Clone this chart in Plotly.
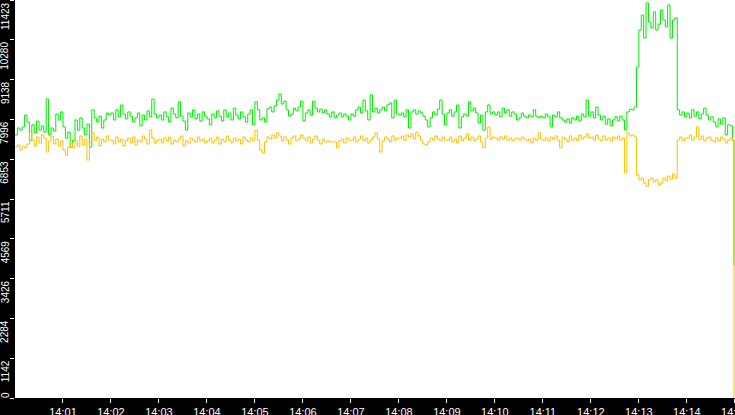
import pandas as pd
import plotly.graph_objects as go

# sample times: one reading every 3 seconds from 14:00, plus the last reading
sample_times = list(pd.date_range('2024-01-01 14:00:00', periods=300, freq='3s'))
sample_times.append(pd.Timestamp('2024-01-01 14:14:59'))

# green series, one row per minute (20 readings each)
green_values = [
    7550, 7750, 7690, 7780, 8120, 7920, 7400, 7840, 7610, 7950, 7690, 7810, 7630, 8580, 7550, 7750, 7660, 8150, 7980, 8210,
    7780, 7460, 7630, 7200, 7400, 7980, 7690, 8040, 7750, 7550, 7860, 7200, 8270, 8040, 7920, 8090, 7750, 7980, 8180, 8120,
    8180, 7980, 8270, 8070, 8410, 8150, 8010, 8210, 8090, 7920, 8040, 8180, 7810, 8120, 7980, 8240, 8070, 8580, 8150, 8040,
    8120, 7980, 8210, 8070, 7920, 8320, 8150, 8040, 8500, 8090, 7950, 7690, 8180, 8070, 8270, 8010, 8150, 7950, 8210, 8090,
    8010, 7840, 8150, 8040, 8240, 8090, 7950, 8270, 8070, 8180, 7980, 8320, 8120, 8010, 8210, 8070, 7920, 8150, 8270, 7840,
    8500, 8270, 7980, 8040, 7920, 8300, 8350, 8210, 8380, 8550, 8720, 8440, 8520, 8270, 8090, 8150, 8320, 8240, 8350, 8520,
    7950, 8180, 8270, 8120, 8520, 8320, 8210, 8290, 8180, 8270, 8150, 8070, 8210, 8040, 8120, 8180, 8070, 8150, 8090, 7980,
    8150, 8090, 8270, 8350, 8180, 8550, 8240, 7980, 8700, 8210, 8320, 8180, 8270, 8350, 8240, 8410, 8470, 8040, 8550, 8150,
    8120, 8180, 8070, 8270, 7750, 8210, 8270, 8150, 8240, 8180, 8090, 7980, 7780, 8040, 8210, 8120, 8290, 8550, 8150, 7840,
    8180, 8270, 8090, 8210, 8410, 7750, 8070, 8150, 8090, 8500, 8240, 8320, 8180, 7890, 8120, 7690, 8210, 8410, 8150, 8210,
    8120, 8210, 8070, 8320, 8180, 8270, 8090, 8210, 8150, 7980, 8040, 8180, 8090, 8040, 8120, 8070, 8270, 8090, 8040, 8090,
    8040, 8150, 8070, 7780, 8120, 8070, 8210, 8040, 7980, 7920, 8010, 7890, 8040, 7980, 8090, 7950, 8150, 8070, 8550, 8090,
    8210, 8040, 8350, 8120, 7980, 8090, 7860, 8010, 7810, 7980, 8070, 7950, 8090, 7980, 7690, 8210, 8290, 8270, 8350, 9500,
    10560, 10990, 10330, 11340, 10790, 10620, 11080, 10560, 10730, 11140, 10850, 10650, 11280, 10330, 10850, 10910, 8270, 8120, 8210, 8070,
    8180, 8040, 8270, 8090, 8210, 8010, 8150, 8320, 8120, 7980, 8070, 7920, 7780, 8010, 7860, 8040, 7550, 7840, 7810, 7400,
    3790,
]

# amber series, same layout
amber_values = [
    7200, 7260, 7120, 7230, 7180, 7290, 7630, 7400, 7230, 7490, 7320, 7550, 7460, 7060, 7380, 7520, 7290, 7430, 7230, 7380,
    7120, 6970, 7200, 7320, 7180, 7380, 7230, 7520, 7260, 7430, 6830, 7320, 7610, 7400, 7490, 7230, 7430, 7350, 7520, 7400,
    7400, 7290, 7490, 7350, 7430, 7230, 7380, 7460, 7320, 7490, 7260, 7400, 7350, 7520, 7430, 7290, 7690, 7460, 7320, 7400,
    7430, 7320, 7460, 7380, 7490, 7290, 7400, 7350, 7430, 7520, 7230, 7380, 7320, 7460, 7400, 7350, 7490, 7380, 7430, 7320,
    7380, 7460, 7320, 7400, 7490, 7290, 7430, 7350, 7520, 7400, 7320, 7460, 7380, 7430, 7290, 7490, 7400, 7350, 7460, 7380,
    7690, 7400, 7120, 7030, 7350, 7490, 7430, 7550, 7460, 7610, 7520, 7380, 7490, 7400, 7290, 7460, 7520, 7380, 7430, 7550,
    7460, 7380, 7490, 7320, 7430, 7520, 7400, 7290, 7430, 7350, 7380, 7350, 7350, 7350, 7180, 7380, 7430, 7320, 7460, 7400,
    7400, 7490, 7350, 7430, 7520, 7380, 7460, 7320, 7400, 7490, 7610, 7430, 7060, 7380, 7490, 7430, 7350, 7520, 7400, 7460,
    7460, 7520, 7400, 7550, 7490, 7580, 7430, 7630, 7520, 7400, 7290, 7260, 7350, 7460, 7400, 7520, 7430, 7380, 7490, 7400,
    7400, 7490, 7350, 7430, 7320, 7520, 7380, 7460, 7580, 7400, 7490, 7380, 7430, 7520, 7350, 7180, 7460, 7780, 7430, 7490,
    7460, 7400, 7490, 7430, 7520, 7400, 7460, 7380, 7430, 7460, 7400, 7490, 7430, 7380, 7430, 7320, 7460, 7400, 7610, 7430,
    7400, 7460, 7380, 7490, 7430, 7520, 7400, 7180, 7490, 7430, 7350, 7520, 7400, 7460, 7380, 7550, 7430, 7490, 7580, 7460,
    7490, 7400, 7550, 7430, 7380, 7520, 7400, 7460, 7380, 7490, 7430, 7520, 7400, 7460, 6460, 7610, 7520, 7550, 7490, 6400,
    6260, 6310, 6170, 6080, 6260, 6310, 6200, 6260, 6110, 6170, 6310, 6230, 6370, 6280, 6430, 6310, 7400, 7490, 7380, 7460,
    7460, 7550, 7400, 7490, 7780, 7430, 7520, 7380, 7460, 7490, 7400, 7350, 7460, 7380, 7490, 7430, 7320, 7400, 7460, 7380,
    0,
]

ytick_vals = [0, 1142, 2284, 3426, 4569, 5711, 6853, 7996, 9138, 10280, 11423]
ytick_text = ['0', '1142', '2284', '3426', '4569', '5711', '6853', '7996', '9138', '10280', '11423']

xtick_text = ['14:01', '14:02', '14:03', '14:04', '14:05', '14:06', '14:07', '14:08',
              '14:09', '14:10', '14:11', '14:12', '14:13', '14:14', '14:15']
xtick_vals = ['2024-01-01 ' + t + ':00' for t in xtick_text]

fig = go.Figure()
fig.add_trace(go.Scatter(x=sample_times, y=green_values, mode='lines',
                         line=dict(color='#00ee00', width=1, shape='hv'),
                         name='green'))
fig.add_trace(go.Scatter(x=sample_times, y=amber_values, mode='lines',
                         line=dict(color='#ffc000', width=1, shape='hv'),
                         name='amber'))

# y labels sit just under their tick, rotated
annotations = []
for val, txt in zip(ytick_vals, ytick_text):
    annotations.append(dict(
        x=0, xref='paper', xshift=-10, xanchor='center',
        y=val, yref='y', yanchor='bottom' if val == 0 else 'top',
        yshift=-2 if val == 0 else 0,
        text=txt, textangle=-90, showarrow=False,
        font=dict(family='Liberation Sans', size=10, color='white'),
    ))

fig.update_layout(
    width=735,
    height=415,
    margin=dict(l=15, r=0, t=0, b=17, pad=0),
    paper_bgcolor='black',
    plot_bgcolor='white',
    showlegend=False,
    annotations=annotations,
    xaxis=dict(
        range=['2024-01-01 14:00:00', '2024-01-01 14:15:00.2'],
        tickmode='array',
        tickvals=xtick_vals,
        ticktext=xtick_text,
        ticks='outside', ticklen=4, tickcolor='white', tickwidth=1,
        ticklabeloverflow='allow',
        automargin=False,
        tickfont=dict(family='Liberation Sans', size=11, color='white'),
        showgrid=False, zeroline=False, showline=False,
    ),
    yaxis=dict(
        range=[0, 11423],
        tickmode='array',
        tickvals=ytick_vals,
        showticklabels=False,
        automargin=False,
        ticks='outside', ticklen=4, tickcolor='white', tickwidth=1,
        showgrid=False, zeroline=False, showline=False,
    ),
)

# page body has a default margin; drop it so the chart fills the window
fig.write_html('out.html', config={'displayModeBar': False},
               post_script="document.body.style.margin='0';")
